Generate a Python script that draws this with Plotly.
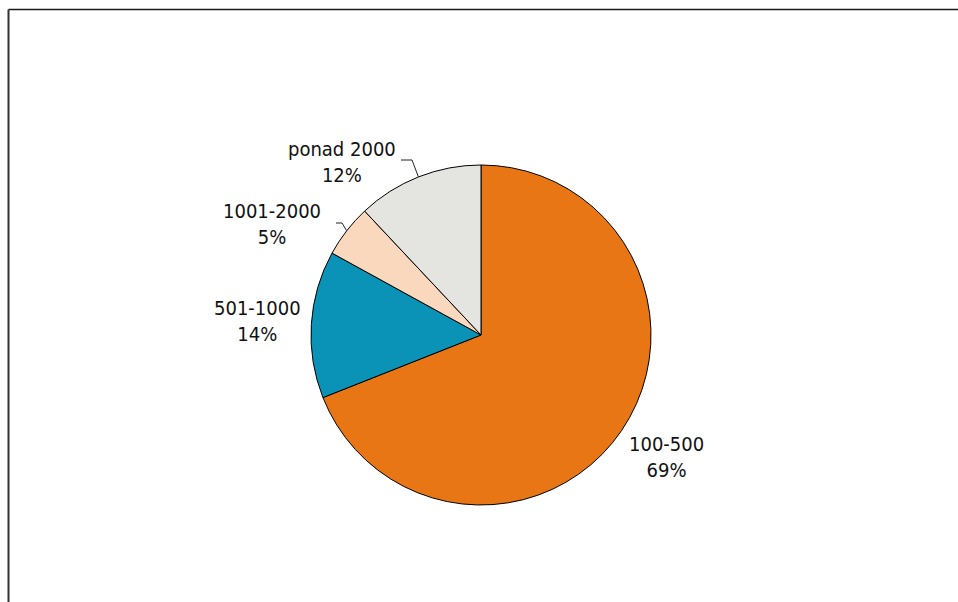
import math
import plotly.graph_objects as go

# ---- data ----
categories = ["100-500", "501-1000", "1001-2000", "ponad 2000"]
values = [69, 14, 5, 12]
colors = ["#E87614", "#0A92B7", "#F9D8BE", "#E4E4E0"]

# ---- layout (pixels) ----
W, H = 958, 602
CX, CY, R = 481, 335, 170
# label centres (pixels), per category
label_pos = [(666, 457), (257, 321), (272, 224), (342, 162)]
# leader elbows (pixels) or None
leader_elbow = [None, None, [(336, 223), (342, 223)], [(401, 160), (412, 160)]]

def px(x):
    return x / W

def py(y):
    return 1 - y / H

fig = go.Figure()
fig.add_trace(go.Pie(
    labels=categories,
    values=values,
    sort=False,
    direction="clockwise",
    rotation=0,
    marker=dict(colors=colors, line=dict(color="#000000", width=1)),
    textinfo="none",
    hoverinfo="label+percent",
    showlegend=False,
    domain=dict(x=[px(CX - R), px(CX + R)], y=[py(CY + R), py(CY - R)]),
))

total = sum(values)
annotations = []
shapes = []
cum = 0
for i, (cat, v) in enumerate(zip(categories, values)):
    mid = (cum + v / 2) / total * 2 * math.pi
    cum += v
    pct = round(v / total * 100)
    lx, ly = label_pos[i]
    annotations.append(dict(
        x=px(lx), y=py(ly), xref="paper", yref="paper",
        text=f"{cat}<br>{pct}%", showarrow=False,
        xanchor="center", yanchor="middle", align="center",
        font=dict(family="DejaVu Sans Condensed, DejaVu Sans", size=20, color="#111111"),
    ))
    if leader_elbow[i]:
        ex = CX + R * math.sin(mid)
        ey = CY - R * math.cos(mid)
        pts = leader_elbow[i] + [(ex, ey)]
        path = "M " + " L ".join(f"{px(x)},{py(y)}" for x, y in pts)
        shapes.append(dict(type="path", path=path, xref="paper", yref="paper",
                           line=dict(color="#222222", width=1)))

# frame lines (top and left)
shapes.append(dict(type="line", xref="paper", yref="paper",
                   x0=px(8.5), y0=py(9.5), x1=1, y1=py(9.5),
                   line=dict(color="#1a1a1a", width=1.5)))
shapes.append(dict(type="line", xref="paper", yref="paper",
                   x0=px(8.5), y0=py(9.5), x1=px(8.5), y1=0,
                   line=dict(color="#333333", width=2)))

fig.update_layout(
    width=W, height=H,
    margin=dict(l=0, r=0, t=0, b=0),
    paper_bgcolor="white", plot_bgcolor="white",
    annotations=annotations, shapes=shapes,
)
fig.write_html("out.html")
